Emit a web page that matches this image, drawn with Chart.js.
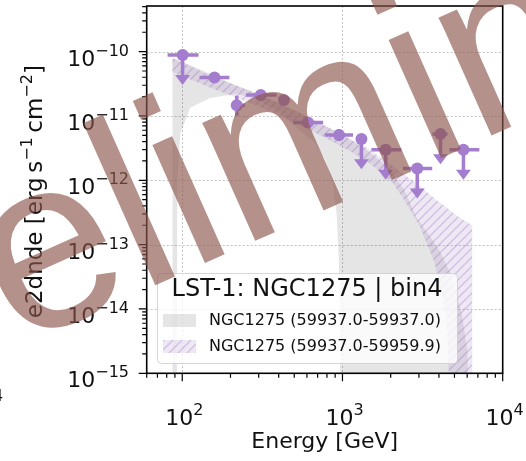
<!DOCTYPE html>
<html>
<head>
<meta charset="utf-8">
<script src="https://cdn.jsdelivr.net/npm/chart.js@4.4.0/dist/chart.umd.min.js"></script>
<style>
  html, body { margin: 0; padding: 0; background: #fff; }
  canvas { display: block; }
</style>
</head>
<body>
<canvas id="sed" width="526" height="461"></canvas>
<script>
// flux points, LST-1 NGC1275 bin4
const energy = [100.5, 158.9, 218.9, 308.9, 431, 608, 952, 1313, 1860, 2929, 4090, 5688];
const flux = [8.9e-11, 3.95e-11, 1.47e-11, 2.11e-11, 1.77e-11, 7.93e-12, 5.06e-12, 4.38e-12, 2.99e-12, 1.53e-12, 5.24e-12, 2.99e-12];
const energyLow = [81.0, 128.2, 203.9, 250.1, 407, 492.7, 776, 1227, 1515, 2384, 3647, 4652];
const energyHigh = [126.3, 197, 246.6, 388.4, 456.7, 757.3, 1164, 1396, 2330, 3631, 4521, 7150];
const fluxLow = [null, 3.55e-11, 1.01e-11, 1.90e-11, 1.58e-11, 6.64e-12, 4.08e-12, null, null, null, null, null];
const fluxHigh = [null, 4.40e-11, 2.06e-11, 2.35e-11, 1.96e-11, 9.48e-12, 6.27e-12, null, null, null, null, null];
const isUL = [true, false, false, false, false, false, false, true, true, true, true, true];

// butterfly 59937.0-59937.0 (grey)
const greyE = [86.7, 92.4, 93.1, 97.2, 112.1, 149.4, 219.9, 305.9, 407.3, 542, 672.3, 776, 870.5, 921.5, 948.4, 975.9, 1416, 1969, 2442, 2900, 3494, 4032, 4858, 5606, 6021, 6197];
const greyUpper = [7.98e-11, 7.57e-11, 7.43e-11, 7.18e-11, 6.22e-11, 4.51e-11, 2.94e-11, 2.13e-11, 1.55e-11, 1.12e-11, 8.43e-12, 7.05e-12, 6.11e-12, 5.69e-12, 5.49e-12, 5.30e-12, 2.99e-12, 1.52e-12, 6.92e-13, 2.64e-13, 1.39e-13, 8.13e-14, 3.10e-14, 7.44e-15, 2.29e-15, 1e-16];
const greyLower = [1e-16, 1e-16, 8.89e-13, 5.30e-12, 1.34e-11, 1.91e-11, 2.21e-11, 1.72e-11, 1.12e-11, 5.9e-12, 3.85e-12, 2.17e-12, 9.2e-13, 2.83e-13, 5.69e-14, 1e-16, 1e-16, 1e-16, 1e-16, 1e-16, 1e-16, 1e-16, 1e-16, 1e-16, 1e-16, 1e-16];

// butterfly 59937.0-59959.9 (purple, hatched)
const purpleE = [86.7, 155.9, 305.9, 542, 921, 1416, 2056, 2442, 3027, 3752, 4457, 4786, 5370, 6471];
const purpleUpper = [7.98e-11, 4.06e-11, 2.13e-11, 1.12e-11, 5.69e-12, 3.21e-12, 1.69e-12, 1.22e-12, 8.28e-13, 5.20e-13, 3.78e-13, 3.27e-13, 2.64e-13, 1.99e-13];
const purpleLower = [4.84e-11, 2.64e-11, 1.39e-11, 7.31e-12, 3.71e-12, 2.02e-12, 9.2e-13, 4.84e-13, 1.99e-13, 5.3e-14, 7.4e-15, 1e-16, 1e-16, 1e-16];

const xDecades = [2, 3, 4];
const yDecades = [-15, -14, -13, -12, -11, -10];
const legendTitle = 'LST-1: NGC1275 | bin4';
const legendLabels = ['NGC1275 (59937.0-59937.0)', 'NGC1275 (59937.0-59959.9)'];
const watermark = 'Preliminary';

const pointColor = '#a47dce';
const greyFill = 'rgba(0,0,0,0.1)';
const ulFactor = 0.34;
const FONT = '"DejaVu Sans", sans-serif';

const canvas = document.getElementById('sed');
const ctx0 = canvas.getContext('2d');

function makeHatch() {
    const c = document.createElement('canvas');
    c.width = 9; c.height = 9;
    const g = c.getContext('2d');
    g.fillStyle = 'rgba(148,103,189,0.16)';
    g.fillRect(0, 0, 9, 9);
    g.strokeStyle = 'rgba(148,103,189,0.32)';
    g.lineWidth = 1.3;
    g.beginPath();
    g.moveTo(-1, 10); g.lineTo(10, -1);
    g.moveTo(-1, 1); g.lineTo(1, -1);
    g.moveTo(8, 10); g.lineTo(10, 8);
    g.stroke();
    return ctx0.createPattern(c, 'repeat');
}
const hatch = makeHatch();

const pairs = (xs, ys) => xs.map((v, i) => ({ x: v, y: ys[i] }));

// "10" with a raised exponent, like matplotlib mathtext
function powWidth(ctx, exp) {
    ctx.font = '22px ' + FONT;
    const a = ctx.measureText('10').width;
    ctx.font = '16px ' + FONT;
    return a + ctx.measureText(exp).width;
}
function drawPow(ctx, exp, x, y) {
    ctx.textAlign = 'left';
    ctx.textBaseline = 'alphabetic';
    ctx.font = '22px ' + FONT;
    ctx.fillText('10', x, y);
    const a = ctx.measureText('10').width;
    ctx.font = '16px ' + FONT;
    ctx.fillText(exp, x + a, y - 10);
}
const expText = e => String(e).replace('-', '\u2212');

const gridPlugin = {
    id: 'gridLines',
    beforeDatasetsDraw(chart) {
        const { ctx, chartArea: a, scales: { x, y } } = chart;
        ctx.save();
        ctx.strokeStyle = 'rgba(170,170,170,0.7)';
        ctx.lineWidth = 1;
        ctx.setLineDash([2, 2]);
        ctx.beginPath();
        xDecades.forEach(d => {
            const px = Math.round(x.getPixelForValue(Math.pow(10, d))) + 0.5;
            if (px > a.left + 2 && px < a.right - 2) { ctx.moveTo(px, a.top); ctx.lineTo(px, a.bottom); }
        });
        yDecades.forEach(d => {
            const py = Math.round(y.getPixelForValue(Math.pow(10, d))) + 0.5;
            if (py > a.top + 2 && py < a.bottom - 2) { ctx.moveTo(a.left, py); ctx.lineTo(a.right, py); }
        });
        ctx.stroke();
        ctx.restore();
    }
};

const errorBars = {
    id: 'errorBars',
    beforeDatasetDraw(chart, args) {
        if (args.index !== 4) return;
        const { ctx, scales: { x, y } } = chart;
        ctx.save();
        ctx.strokeStyle = pointColor;
        ctx.fillStyle = pointColor;
        ctx.lineWidth = 3.5;
        energy.forEach((e, i) => {
            const px = x.getPixelForValue(e);
            const py = y.getPixelForValue(flux[i]);
            ctx.beginPath();
            ctx.moveTo(x.getPixelForValue(energyLow[i]), py);
            ctx.lineTo(x.getPixelForValue(energyHigh[i]), py);
            if (isUL[i]) {
                const tip = y.getPixelForValue(flux[i] * ulFactor);
                ctx.moveTo(px, py);
                ctx.lineTo(px, tip - 8);
                ctx.stroke();
                ctx.beginPath();
                ctx.moveTo(px - 7.5, tip - 10);
                ctx.lineTo(px + 7.5, tip - 10);
                ctx.lineTo(px, tip);
                ctx.closePath();
                ctx.fill();
            } else {
                ctx.moveTo(px, y.getPixelForValue(fluxHigh[i]));
                ctx.lineTo(px, y.getPixelForValue(fluxLow[i]));
                ctx.stroke();
            }
        });
        ctx.restore();
    }
};

const axesPlugin = {
    id: 'axesFrame',
    afterDatasetsDraw(chart) {
        const { ctx, chartArea: a, scales: { x, y } } = chart;
        ctx.save();
        ctx.strokeStyle = '#000';
        ctx.fillStyle = '#000';
        // ticks
        ctx.lineWidth = 1.2;
        ctx.beginPath();
        for (let d = 1; d <= 4; d++) {
            for (let m = 1; m <= 9; m++) {
                const v = m * Math.pow(10, d);
                if (v < x.min || v > x.max) continue;
                const px = x.getPixelForValue(v);
                ctx.moveTo(px, a.bottom);
                ctx.lineTo(px, a.bottom + (m === 1 ? 8 : 4.5));
            }
        }
        for (let d = -15; d <= -10; d++) {
            for (let m = 1; m <= 9; m++) {
                const v = m * Math.pow(10, d);
                if (v < y.min || v > y.max) continue;
                const py = y.getPixelForValue(v);
                ctx.moveTo(a.left, py);
                ctx.lineTo(a.left - (m === 1 ? 8 : 4.5), py);
            }
        }
        ctx.stroke();
        // frame
        ctx.lineWidth = 1.6;
        ctx.strokeRect(a.left, a.top, a.right - a.left, a.bottom - a.top);

        ctx.fillStyle = '#111';
        // y tick labels
        yDecades.forEach(d => {
            const py = y.getPixelForValue(Math.pow(10, d));
            const t = expText(d);
            drawPow(ctx, t, 129 - powWidth(ctx, t), py + 14);
        });
        // x tick labels
        xDecades.forEach(d => {
            const px = x.getPixelForValue(Math.pow(10, d));
            const t = expText(d);
            drawPow(ctx, t, px - powWidth(ctx, t) / 2 + 2, 425);
        });
        // stray label of the neighbouring panel
        ctx.font = '16px ' + FONT;
        ctx.fillText('4', -7, 401);

        // x title
        ctx.font = '22px ' + FONT;
        ctx.textAlign = 'center';
        ctx.fillText('Energy [GeV]', (a.left + a.right) / 2, 448);

        // y title with superscripts
        const parts = [['e2dnde [erg\u2009s', 23, 0], ['\u22121', 16, -10], ['\u2009cm', 23, 0], ['\u22122', 16, -10], [']', 23, 0]];
        let w = 0;
        parts.forEach(p => { ctx.font = p[1] + 'px ' + FONT; w += ctx.measureText(p[0]).width; });
        ctx.translate(35, (a.top + a.bottom) / 2 + 2);
        ctx.rotate(-Math.PI / 2);
        ctx.textAlign = 'left';
        let cx = -w / 2;
        parts.forEach(p => {
            ctx.font = p[1] + 'px ' + FONT;
            ctx.fillText(p[0], cx, 7 + p[2]);
            cx += ctx.measureText(p[0]).width;
        });
        ctx.restore();
    }
};

const legendPlugin = {
    id: 'legendBox',
    afterDraw(chart) {
        const ctx = chart.ctx;
        ctx.save();
        ctx.beginPath();
        ctx.roundRect(157.5, 273.5, 300, 90, 4);
        ctx.fillStyle = 'rgba(255,255,255,0.8)';
        ctx.fill();
        ctx.strokeStyle = 'rgba(204,204,204,0.8)';
        ctx.lineWidth = 1;
        ctx.stroke();
        ctx.fillStyle = '#111';
        ctx.font = '24px ' + FONT;
        ctx.textAlign = 'center';
        ctx.textBaseline = 'middle';
        ctx.fillText(legendTitle, 307, 290);
        ctx.fillStyle = greyFill;
        ctx.fillRect(163, 314, 33, 13);
        ctx.fillStyle = hatch;
        ctx.fillRect(163, 340, 33, 13);
        ctx.fillStyle = '#111';
        ctx.font = '16px ' + FONT;
        ctx.textAlign = 'left';
        ctx.fillText(legendLabels[0], 209, 321);
        ctx.fillText(legendLabels[1], 209, 347);

        // watermark on top of everything
        ctx.fillStyle = 'rgba(140,86,75,0.65)';
        ctx.font = '245px "Liberation Sans", Arial, sans-serif';
        ctx.textAlign = 'left';
        ctx.textBaseline = 'alphabetic';
        ctx.translate(-208, 447);
        ctx.rotate(-24 * Math.PI / 180);
        ctx.fillText(watermark, 0, 0);
        ctx.restore();
    }
};

const band = (data, label, fill, color, order) => ({
    label, data, order,
    borderWidth: 0,
    pointRadius: 0,
    fill: fill ? '+1' : false,
    backgroundColor: color,
    tension: 0
});

new Chart(canvas, {
    type: 'line',
    data: {
        datasets: [
            band(pairs(greyE, greyUpper), legendLabels[0], true, greyFill, 3),
            band(pairs(greyE, greyLower), legendLabels[0] + ' low', false, greyFill, 3),
            band(pairs(purpleE, purpleUpper), legendLabels[1], true, hatch, 2),
            band(pairs(purpleE, purpleLower), legendLabels[1] + ' low', false, hatch, 2),
            {
                label: 'flux points',
                data: pairs(energy, flux),
                showLine: false,
                pointRadius: 6,
                pointBackgroundColor: pointColor,
                pointBorderWidth: 0,
                order: 0
            }
        ]
    },
    options: {
        responsive: false,
        animation: false,
        layout: { padding: { left: 0, right: 23.3, top: 5, bottom: 0 } },
        plugins: { legend: { display: false }, tooltip: { enabled: false } },
        scales: {
            x: {
                type: 'logarithmic', min: 60, max: 1e4,
                ticks: { display: false }, grid: { display: false }, border: { display: false },
                afterFit: s => { s.height = 87.7; }
            },
            y: {
                type: 'logarithmic', min: 1e-15, max: 5.12e-10,
                ticks: { display: false }, grid: { display: false }, border: { display: false },
                afterFit: s => { s.width = 146.7; }
            }
        }
    },
    plugins: [gridPlugin, errorBars, axesPlugin, legendPlugin]
});
</script>
</body>
</html>
